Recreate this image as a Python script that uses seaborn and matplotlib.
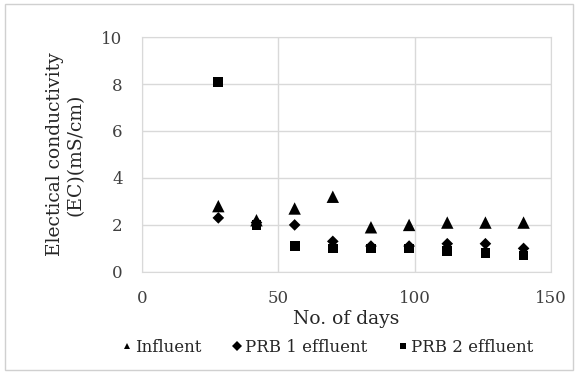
import matplotlib
matplotlib.use("Agg")
import matplotlib.pyplot as plt
import seaborn as sns
import pandas as pd

days = [28, 42, 56, 70, 84, 98, 112, 126, 140]
influent = [2.8, 2.2, 2.7, 3.2, 1.9, 2.0, 2.1, 2.1, 2.1]
prb1 = [2.3, 2.1, 2.0, 1.3, 1.1, 1.1, 1.2, 1.2, 1.0]
prb2 = [8.1, 2.0, 1.1, 1.0, 1.0, 1.0, 0.9, 0.8, 0.7]

df = pd.DataFrame({
    "day": days * 3,
    "ec": influent + prb1 + prb2,
    "series": ["Influent"] * 9 + ["PRB 1 effluent"] * 9 + ["PRB 2 effluent"] * 9,
})

sns.set_style("white")
plt.rcParams['font.family'] = ['DejaVu Serif']

fig = plt.figure(figsize=(5.78, 3.74), dpi=100)
ax = fig.add_axes([0.2457, 0.273, 0.953 - 0.2457, 0.901 - 0.273])

sns.scatterplot(data=df, x="day", y="ec", hue="series", style="series", size="series",
                markers={"Influent": "^", "PRB 1 effluent": "D", "PRB 2 effluent": "s"},
                sizes={"Influent": 80, "PRB 1 effluent": 35, "PRB 2 effluent": 50},
                palette={"Influent": "black", "PRB 1 effluent": "black", "PRB 2 effluent": "black"},
                edgecolor="black", linewidth=0, ax=ax, zorder=3)

ax.set_xlim(0, 150)
ax.set_ylim(0, 10)
ax.set_xticks([0, 50, 100, 150])
ax.set_yticks([0, 2, 4, 6, 8, 10])
ax.grid(True, color="#d9d9d9", linewidth=1)
for sp in ax.spines.values():
    sp.set_color("#d9d9d9")
ax.tick_params(length=0, labelsize=12, colors="#404040")
ax.tick_params(axis="x", pad=13)
ax.tick_params(axis="y", pad=14)
ax.set_xlabel("No. of days", fontsize=13.5, labelpad=2)
ax.set_ylabel("Electical conductivity\n(EC)(mS/cm)", fontsize=13.5, labelpad=12)

handles, labels = ax.get_legend_handles_labels()
for h in handles:
    h.set_markersize(5)
ax.legend(handles, labels, loc="upper center", bbox_to_anchor=(0.45, -0.22), ncol=3,
          frameon=False, fontsize=12, handletextpad=0.0, columnspacing=1.6, handlelength=1)

fig.patches.append(plt.Rectangle((0.008, 0.01), 0.984, 0.98, transform=fig.transFigure,
                                 fill=False, edgecolor="#d0d0d0", linewidth=1))

fig.savefig("out.png", dpi=100)
